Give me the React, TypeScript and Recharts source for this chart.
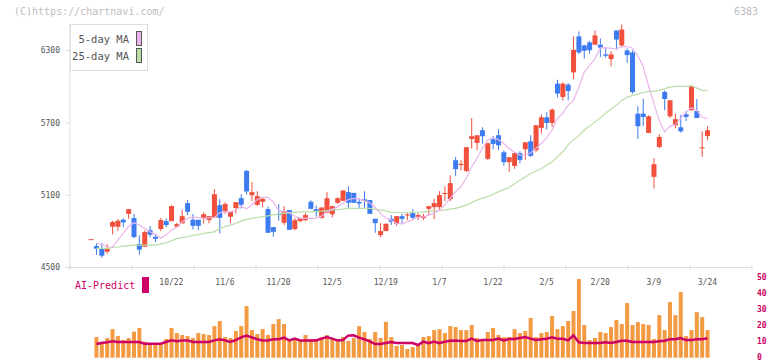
import { ComposedChart, Bar, Line, XAxis, YAxis, Legend } from 'recharts';

const RED = '#f0503c';
const BLUE = '#3c7cf0';
const MA5_COLOR = '#ebb4eb';
const MA25_COLOR = '#b9dea8';
const VOL_COLOR = '#f39a42';
const AI_COLOR = '#cc0066';
const AXIS = '#dddddd';
const MONO = '"DejaVu Sans Mono", monospace';

// trading days, 9/30 .. 3/24
const dates = [
  '9/30', '10/1', '10/2', '10/3', '10/6', '10/7', '10/8', '10/9', '10/10', '10/14',
  '10/15', '10/16', '10/17', '10/20', '10/21', '10/22', '10/23', '10/24', '10/27', '10/28',
  '10/29', '10/30', '10/31', '11/4', '11/5', '11/6', '11/7', '11/10', '11/11', '11/12',
  '11/13', '11/14', '11/17', '11/18', '11/19', '11/20', '11/21', '11/25', '11/26', '11/27',
  '11/28', '12/1', '12/2', '12/3', '12/4', '12/5', '12/8', '12/9', '12/10', '12/11',
  '12/12', '12/15', '12/16', '12/17', '12/18', '12/19', '12/22', '12/23', '12/24', '12/25',
  '12/26', '12/29', '12/30', '1/5', '1/6', '1/7', '1/8', '1/9', '1/13', '1/14',
  '1/15', '1/16', '1/19', '1/20', '1/21', '1/22', '1/23', '1/26', '1/27', '1/28',
  '1/29', '1/30', '2/2', '2/3', '2/4', '2/5', '2/6', '2/9', '2/10', '2/12',
  '2/13', '2/16', '2/17', '2/18', '2/19', '2/20', '2/24', '2/25', '2/26', '2/27',
  '3/2', '3/3', '3/4', '3/5', '3/6', '3/9', '3/10', '3/11', '3/12', '3/13',
  '3/16', '3/17', '3/18', '3/19', '3/23', '3/24',
];

const opens = [
  4735, 4678, 4653, 4631, 4838, 4838, 4896, 4945, 4910, 4695,
  4672, 4810, 4755, 4819, 4885, 4885, 4838, 4866, 5034, 4896,
  4896, 4910, 4893, 4916, 5017, 4968, 4921, 4993, 5075, 5301,
  5100, 5020, 5045, 4984, 4835, 4945, 4871, 4976, 4819, 4885,
  4893, 5045, 4984, 4912, 4954, 4941, 5037, 5053, 5125, 5119,
  5045, 5065, 5059, 4904, 4769, 4802, 4904, 4863, 4926, 4932,
  4951, 4921, 4910, 4987, 5001, 5001, 5110, 5067, 5390, 5350,
  5301, 5566, 5533, 5639, 5401, 5564, 5597, 5456, 5374, 5343,
  5448, 5481, 5547, 5473, 5658, 5746, 5699, 6025, 5915, 6017,
  6119, 6417, 6342, 6367, 6348, 6348, 6268, 6229, 6466, 6342,
  6301, 6284, 5776, 5776, 5616, 5252, 5500, 5956, 5754, 5680,
  5663, 5771, 5804, 5798, 5493, 5591,
];

const highs = [
  4735, 4700, 4700, 4695, 4888, 4902, 4907, 4984, 4945, 4767,
  4808, 4844, 4775, 4910, 4907, 5017, 4871, 4976, 5059, 4943,
  4896, 4960, 4926, 5150, 5067, 5042, 4962, 5042, 5108, 5310,
  5210, 5133, 5084, 5007, 4835, 5026, 5009, 4976, 4910, 4912,
  4951, 5059, 5015, 4998, 5125, 5009, 5084, 5139, 5175, 5119,
  5075, 5133, 5059, 4904, 4868, 4863, 4935, 4926, 4945, 4951,
  4984, 4951, 4945, 5009, 5070, 5133, 5175, 5266, 5417, 5390,
  5498, 5740, 5597, 5663, 5531, 5591, 5647, 5473, 5415, 5456,
  5464, 5539, 5597, 5680, 5771, 5788, 5820, 6058, 6036, 6031,
  6417, 6458, 6348, 6380, 6466, 6400, 6328, 6295, 6466, 6516,
  6317, 6301, 5837, 5900, 5763, 5407, 5605, 5970, 5887, 5776,
  5768, 5798, 6011, 5898, 5630, 5672,
];

const lows = [
  4735, 4606, 4581, 4614, 4775, 4805, 4835, 4904, 4742, 4606,
  4670, 4750, 4711, 4802, 4835, 4883, 4838, 4866, 4935, 4816,
  4810, 4865, 4866, 4912, 4783, 4945, 4866, 4949, 4990, 5106,
  5051, 5012, 4999, 4788, 4755, 4888, 4852, 4813, 4808, 4874,
  4885, 4982, 4921, 4905, 4950, 4916, 5028, 5053, 4995, 5037,
  4987, 4987, 4945, 4788, 4750, 4802, 4854, 4846, 4863, 4893,
  4893, 4893, 4893, 4935, 4902, 4976, 5051, 5051, 5260, 5307,
  5291, 5487, 5473, 5528, 5392, 5481, 5473, 5343, 5293, 5318,
  5365, 5393, 5417, 5456, 5611, 5644, 5666, 5909, 5885, 5887,
  6063, 6270, 6232, 6273, 6348, 6245, 6240, 6168, 6307, 6328,
  6199, 5942, 5566, 5673, 5616, 5156, 5489, 5804, 5740, 5655,
  5619, 5715, 5804, 5740, 5417, 5556,
];

const closes = [
  4735, 4656, 4598, 4656, 4877, 4888, 4874, 4984, 4753, 4648,
  4794, 4772, 4738, 4893, 4852, 5009, 4860, 4926, 4962, 4846,
  4846, 4942, 4926, 5108, 4912, 5026, 4962, 5042, 5020, 5131,
  5125, 5092, 5070, 4788, 4796, 4935, 4968, 4813, 4893, 4912,
  4935, 4987, 4959, 4998, 5075, 5009, 5075, 5139, 5037, 5037,
  5031, 5053, 4945, 4868, 4802, 4863, 4879, 4926, 4904, 4940,
  4912, 4935, 4926, 5009, 5034, 5100, 5118, 5200, 5316, 5360,
  5498, 5589, 5597, 5589, 5531, 5525, 5514, 5374, 5415, 5448,
  5393, 5539, 5426, 5680, 5746, 5699, 5809, 5943, 6025, 5964,
  6306, 6284, 6298, 6303, 6425, 6323, 6257, 6268, 6391, 6474,
  6262, 5955, 5672, 5749, 5754, 5357, 5583, 5898, 5887, 5730,
  5630, 5749, 6003, 5740, 5497, 5639,
];

const ma5 = [
  null, 4700, 4694, 4672, 4670, 4728, 4783, 4838, 4871, 4852,
  4824, 4796, 4777, 4742, 4769, 4810, 4833, 4879, 4907, 4918,
  4915, 4907, 4912, 4915, 4954, 4962, 4962, 4976, 5009, 4987,
  5017, 5064, 5081, 5081, 5045, 4976, 4962, 4954, 4926, 4907,
  4907, 4907, 4907, 4926, 4962, 4984, 5003, 5036, 5064, 5073,
  5067, 5053, 5036, 4998, 4949, 4911, 4893, 4866, 4862, 4877,
  4899, 4915, 4920, 4934, 4949, 4976, 5017, 5073, 5127, 5169,
  5238, 5334, 5404, 5487, 5555, 5578, 5561, 5528, 5487, 5458,
  5431, 5431, 5450, 5487, 5528, 5576, 5638, 5737, 5779, 5845,
  5886, 5996, 6120, 6176, 6231, 6322, 6322, 6319, 6314, 6329,
  6333, 6321, 6259, 6168, 6010, 5861, 5721, 5624, 5671, 5688,
  5737, 5789, 5826, 5803, 5748, 5735,
];

const ma25 = [
  null, 4659, 4659, 4659, 4666, 4670, 4678, 4682, 4686, 4686,
  4686, 4686, 4686, 4694, 4705, 4722, 4740, 4748, 4755, 4766,
  4773, 4783, 4790, 4796, 4823, 4838, 4852, 4866, 4885, 4899,
  4907, 4915, 4922, 4929, 4936, 4943, 4949, 4954, 4958, 4962,
  4962, 4962, 4965, 4968, 4972, 4976, 4980, 4984, 4990, 4990,
  4990, 4990, 4990, 4984, 4976, 4970, 4957, 4955, 4954, 4954,
  4957, 4959, 4962, 4966, 4970, 4973, 4976, 4984, 4990, 5003,
  5017, 5038, 5059, 5075, 5086, 5108, 5127, 5146, 5164, 5195,
  5224, 5251, 5280, 5299, 5319, 5348, 5376, 5419, 5460, 5518,
  5559, 5592, 5640, 5671, 5707, 5741, 5779, 5812, 5845, 5886,
  5911, 5928, 5936, 5952, 5961, 5961, 5969, 5983, 5996, 6002,
  6002, 6002, 6008, 5988, 5969, 5967,
];

const volumes = [
  null, 13.0, 10.1, 12.4, 18.0, 13.6, 11.1, 12.4, 16.4, 18.7,
  10.1, 8.6, 9.0, 9.0, 11.8, 18.7, 15.5, 14.3, 13.6, 12.4,
  15.5, 14.9, 14.3, 19.9, 23.1, 13.0, 12.4, 16.8, 19.9, 32.5,
  17.4, 14.9, 18.0, 14.3, 21.2, 24.3, 21.2, 11.8, 11.8, 11.1,
  14.3, 11.8, 11.8, 13.0, 14.3, 12.4, 11.8, 13.0, 10.5, 12.4,
  19.9, 16.2, 11.8, 16.2, 12.4, 22.6, 13.0, 7.4, 8.0, 5.5,
  6.7, 8.0, 13.0, 13.6, 17.4, 18.0, 15.5, 19.9, 19.3, 17.4,
  17.4, 20.6, 12.4, 11.1, 16.2, 18.7, 14.3, 13.0, 13.0, 18.0,
  15.5, 16.8, 25.0, 13.0, 15.5, 16.2, 26.2, 18.0, 19.9, 23.1,
  29.4, 49.5, 20.6, 11.1, 12.4, 16.2, 15.5, 19.3, 23.7, 21.2,
  34.4, 20.6, 22.4, 21.2, 20.6, 11.8, 26.8, 17.4, 35.0, 26.8,
  41.3, 13.6, 17.4, 28.7, 25.6, 17.4,
];

const aiPredict = [
  null, 8.6, 9.2, 9.7, 10.3, 9.9, 9.9, 9.9, 9.9, 9.9,
  8.8, 8.8, 8.8, 8.8, 9.9, 10.9, 10.3, 10.9, 10.9, 9.9,
  9.9, 9.9, 9.9, 10.9, 11.6, 10.9, 9.9, 11.1, 12.8, 13.9,
  12.8, 11.6, 10.9, 10.9, 11.6, 11.6, 12.6, 10.9, 12.0, 10.9,
  10.9, 10.9, 10.9, 12.0, 13.0, 12.0, 10.9, 11.1, 13.9, 14.1,
  12.6, 11.6, 10.3, 8.6, 8.6, 9.2, 9.9, 9.2, 9.2, 9.2,
  9.2, 8.0, 10.1, 9.1, 10.1, 9.1, 10.1, 10.7, 10.9, 10.5,
  10.5, 12.0, 10.5, 11.1, 11.1, 11.1, 12.0, 10.9, 11.8, 11.8,
  12.4, 13.0, 12.0, 11.1, 11.6, 12.0, 12.8, 12.0, 12.0, 10.9,
  14.1, 9.7, 9.2, 9.2, 9.2, 9.2, 9.7, 9.2, 9.9, 10.7,
  10.7, 9.9, 9.9, 9.9, 9.9, 9.9, 10.3, 10.7, 11.6, 11.6,
  12.4, 11.1, 11.1, 11.6, 11.6, 12.2,
];

const tickDates = ['10/22', '11/6', '11/20', '12/5', '12/19', '1/7', '1/22', '2/5', '2/20', '3/9', '3/24'];
const priceTicks = [4500, 5100, 5700, 6300];
const aiTicks = [0, 10, 20, 30, 40, 50];
const gridTicks = [0, 1, 2, 3, 4, 5, 6, 7, 8, 9, 10, 11];

const data = dates.map((date, i) => ({
  date,
  idx: i,
  open: opens[i],
  high: highs[i],
  low: lows[i],
  close: closes[i],
  ma5: ma5[i],
  ma25: ma25[i],
  volume: volumes[i],
  ai: aiPredict[i],
}));

const X_PADDING = { left: 18.3, right: 41.9 };

const Candle = (props: any) => {
  const { x, y, width, height, payload } = props;
  const { open, close, high, low } = payload;
  const color = close >= open ? RED : BLUE;
  const top = Math.min(y, y + height);
  const h = Math.abs(height);
  const k = high > low ? h / (high - low) : 0;
  const yOf = (v: number) => top + (high - v) * k;
  const bodyTop = yOf(Math.max(open, close));
  const bodyBot = yOf(Math.min(open, close));
  const cx = x + width / 2;
  return (
    <g>
      <line x1={cx} x2={cx} y1={top} y2={top + h} stroke={color} strokeWidth={1} />
      <rect x={x} y={bodyTop} width={width} height={Math.max(bodyBot - bodyTop, 1)} fill={color} />
    </g>
  );
};

const GridTick = ({ x, y }: any) => (
  <line x1={x} x2={x} y1={y - 2.5} y2={y + 2.5} stroke={AXIS} strokeWidth={1} />
);

const MaLegend = () => (
  <div style={{ position: 'relative', width: 78, height: 47, boxSizing: 'border-box', border: `1px solid ${AXIS}`, background: '#fff', fontFamily: MONO, fontSize: 10.5, color: '#555' }}>
    {[['5-day MA', MA5_COLOR], ['25-day MA', MA25_COLOR]].map(([label, c], i) => (
      <div key={label} style={{ position: 'absolute', right: 5, top: 6 + i * 17, height: 15, display: 'flex', alignItems: 'center', whiteSpace: 'nowrap' }}>
        <span style={{ marginRight: 7 }}>{label}</span>
        <span style={{ display: 'inline-block', width: 4, height: 13, border: '1px solid #555', background: c }} />
      </div>
    ))}
  </div>
);

const AiLegend = () => (
  <div style={{ display: 'flex', alignItems: 'center', fontFamily: MONO, fontSize: 10, color: AI_COLOR, whiteSpace: 'nowrap' }}>
    <span style={{ marginRight: 7 }}>AI-Predict</span>
    <span style={{ display: 'inline-block', width: 7, height: 16, background: AI_COLOR }} />
  </div>
);

export default function App() {
  return (
    <div style={{ position: 'absolute', left: 0, top: 0, width: 772, height: 361, background: '#fff', overflow: 'hidden' }}>
      <div style={{ position: 'absolute', left: 14, top: 7, fontFamily: MONO, fontSize: 10, lineHeight: '10px', color: '#bdbdbd' }}>
        (C)https://chartnavi.com/
      </div>
      <div style={{ position: 'absolute', left: 734, top: 7, fontFamily: MONO, fontSize: 10, lineHeight: '10px', color: '#bdbdbd' }}>
        6383
      </div>

      <div style={{ position: 'absolute', left: 0, top: 0 }}>
        <ComposedChart width={772} height={275} data={data} margin={{ top: 24, right: 20, bottom: 0, left: 0 }} barCategoryGap="6%">
          <XAxis dataKey="date" hide height={0} padding={X_PADDING} />
          {/* frame axis: 11 equal divisions along the bottom edge */}
          <XAxis
            xAxisId="grid"
            type="number"
            dataKey="idx"
            domain={[0, 11]}
            ticks={gridTicks}
            interval={0}
            allowDataOverflow
            height={7.5}
            axisLine={{ stroke: AXIS }}
            tickLine={false}
            tickSize={0}
            tickMargin={0}
            tick={<GridTick />}
          />
          <YAxis
            domain={[4500, 6520]}
            ticks={priceTicks}
            interval={0}
            allowDataOverflow
            width={70}
            axisLine={{ stroke: AXIS }}
            tickLine={{ stroke: AXIS }}
            tickSize={5}
            tickMargin={5}
            tick={{ fontSize: 8, fill: '#555', fontFamily: MONO }}
          />
          <Legend layout="vertical" align="center" verticalAlign="middle" content={MaLegend} wrapperStyle={{ left: 70, top: 24, width: 78, height: 47 }} />
          <Line xAxisId="grid" dataKey="close" stroke="none" strokeOpacity={0} dot={false} activeDot={false} legendType="none" isAnimationActive={false} />
          <Line dataKey="ma25" stroke={MA25_COLOR} strokeWidth={1.2} dot={false} activeDot={false} isAnimationActive={false} />
          <Line dataKey="ma5" stroke={MA5_COLOR} strokeWidth={1.2} dot={false} activeDot={false} isAnimationActive={false} />
          <Bar dataKey={(d: any) => [d.low, d.high]} shape={<Candle />} isAnimationActive={false} />
        </ComposedChart>
      </div>

      <div style={{ position: 'absolute', left: 0, top: 268 }}>
        <ComposedChart width={772} height={93} data={data} margin={{ top: 10.3, right: 0, bottom: 3.3, left: 70 }} barCategoryGap="15%">
          <XAxis
            dataKey="date"
            orientation="top"
            mirror
            ticks={tickDates}
            interval={0}
            padding={X_PADDING}
            axisLine={false}
            tickLine={false}
            tickSize={0}
            tickMargin={1}
            tick={{ fontSize: 8, fill: '#555', fontFamily: MONO }}
          />
          <YAxis
            orientation="right"
            domain={[0, 50]}
            ticks={aiTicks}
            interval={0}
            width={20}
            axisLine={false}
            tickLine={false}
            tickSize={0}
            tickMargin={5}
            tick={{ fontSize: 8, fill: AI_COLOR, fontFamily: MONO, fontWeight: 'bold', dy: -1 }}
          />
          <Legend layout="vertical" align="center" verticalAlign="middle" content={AiLegend} wrapperStyle={{ left: 75, top: 9, width: 80, height: 17 }} />
          <Bar dataKey="volume" fill={VOL_COLOR} isAnimationActive={false} />
          <Line dataKey="ai" stroke={AI_COLOR} strokeWidth={2.5} dot={false} activeDot={false} isAnimationActive={false} />
        </ComposedChart>
      </div>
    </div>
  );
}
